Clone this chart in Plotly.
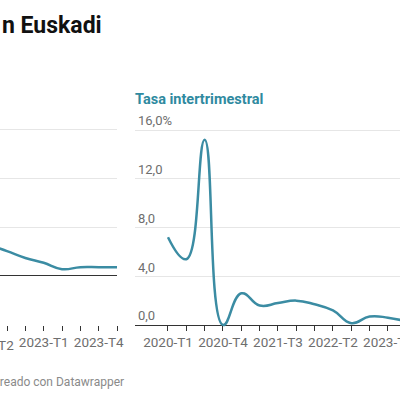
import plotly.graph_objects as go

# trimestres 2020-T1 ... 2024-T1
trimestres = ["2020-T1", "2020-T2", "2020-T3", "2020-T4",
              "2021-T1", "2021-T2", "2021-T3", "2021-T4",
              "2022-T1", "2022-T2", "2022-T3", "2022-T4",
              "2023-T1", "2023-T2", "2023-T3", "2023-T4",
              "2024-T1"]

# tasa interanual (solo la parte visible, desde 2022-T2)
interanual_idx = [9, 10, 11, 12, 13, 14, 15, 16]
interanual = [6.4, 5.1, 3.7, 2.7, 1.4, 1.8, 1.8, 1.8]

# tasa intertrimestral (parte visible)
intertrim_idx = list(range(14))
intertrim = [7.2, 5.4, 15.2, 0.0, 2.6, 1.6, 1.8, 2.0, 1.7, 1.2, 0.15, 0.7, 0.6, 0.3]

y_ticks_dcha = [0, 4, 8, 12, 16]
y_labels_dcha = ["0,0", "4,0", "8,0", "12,0", "16,0%"]

COLOR = "#3b8ca3"
GRIS = "#6e6e6e"
FUENTE = "Roboto"

idx = list(range(len(trimestres)))
ticktext = [t if i % 3 == 0 else "" for i, t in enumerate(trimestres)]

dom_izq = [0, 0.2925]
rango_izq = [9.617, 16]

fig = go.Figure()
fig.add_trace(go.Scatter(x=interanual_idx, y=interanual, mode="lines",
                         line=dict(color=COLOR, width=2.5, shape="spline", smoothing=1.3),
                         xaxis="x", yaxis="y", hoverinfo="skip"))
fig.add_trace(go.Scatter(x=intertrim_idx, y=intertrim, mode="lines",
                         line=dict(color=COLOR, width=2.5, shape="spline", smoothing=1.3),
                         xaxis="x2", yaxis="y2", hoverinfo="skip"))

eje_x = dict(tickmode="array", tickvals=idx, ticktext=ticktext,
             ticks="outside", ticklen=5, tickwidth=1, tickcolor="#333",
             showgrid=False, zeroline=False, showline=False, automargin=False,
             tickfont=dict(family=FUENTE, size=13.5, color=GRIS),
             anchor="free", position=0.1875, ticklabeloverflow="allow")

fig.update_layout(
    width=400, height=400,
    margin=dict(l=0, r=0, t=0, b=0),
    paper_bgcolor="white", plot_bgcolor="white",
    showlegend=False,
    xaxis=dict(eje_x, domain=dom_izq, range=rango_izq),
    xaxis2=dict(eje_x, domain=[0.3375, 1], range=[-1.8, 12.657]),
    yaxis=dict(domain=[0.175, 0.6875], range=[-11.08, 30.97], automargin=False,
               tickmode="array", tickvals=[10, 20, 30], showticklabels=False,
               showgrid=True, gridcolor="#e6e6e6", gridwidth=1,
               zeroline=True, zerolinecolor="#333", zerolinewidth=1.2,
               anchor="x"),
    yaxis2=dict(domain=[0.175, 0.6875], range=[-0.41, 16.41], automargin=False,
                tickmode="array", tickvals=y_ticks_dcha, ticktext=y_labels_dcha,
                ticklabelposition="inside top", ticks="", ticklabeloverflow="allow",
                tickfont=dict(family=FUENTE, size=13, color=GRIS),
                showgrid=True, gridcolor="#e6e6e6", gridwidth=1,
                zeroline=True, zerolinecolor="#333", zerolinewidth=1.2,
                anchor="x2"),
)

fig.add_annotation(text="<b>n Euskadi</b>", xref="paper", yref="paper",
                   x=0, y=(400 - 25) / 400, xanchor="left", yanchor="middle",
                   showarrow=False, font=dict(family=FUENTE, size=23, color="#111"))
fig.add_annotation(text="<b>Tasa intertrimestral</b>", xref="paper", yref="paper",
                   x=133 / 400, y=(400 - 99) / 400, xanchor="left", yanchor="middle",
                   showarrow=False, font=dict(family=FUENTE, size=14.5, color="#2f8aa0"))
# etiqueta del eje izquierdo que queda fuera del rango (2022-T2)
x_t2 = dom_izq[0] + (9 - rango_izq[0]) / (rango_izq[1] - rango_izq[0]) * (dom_izq[1] - dom_izq[0])
fig.add_annotation(text=trimestres[9], xref="paper", yref="paper",
                   x=x_t2, y=(400 - 345) / 400, xanchor="center", yanchor="middle",
                   showarrow=False, font=dict(family=FUENTE, size=13.5, color=GRIS))
fig.add_annotation(text="Creado con Datawrapper", xref="paper", yref="paper",
                   x=126 / 400, y=(400 - 382) / 400, xanchor="right", yanchor="middle",
                   showarrow=False, font=dict(family=FUENTE, size=12, color="#8a8a8a"))

fig.write_html("out.html", config={"displayModeBar": False},
               post_script="document.body.style.margin='0px';")
